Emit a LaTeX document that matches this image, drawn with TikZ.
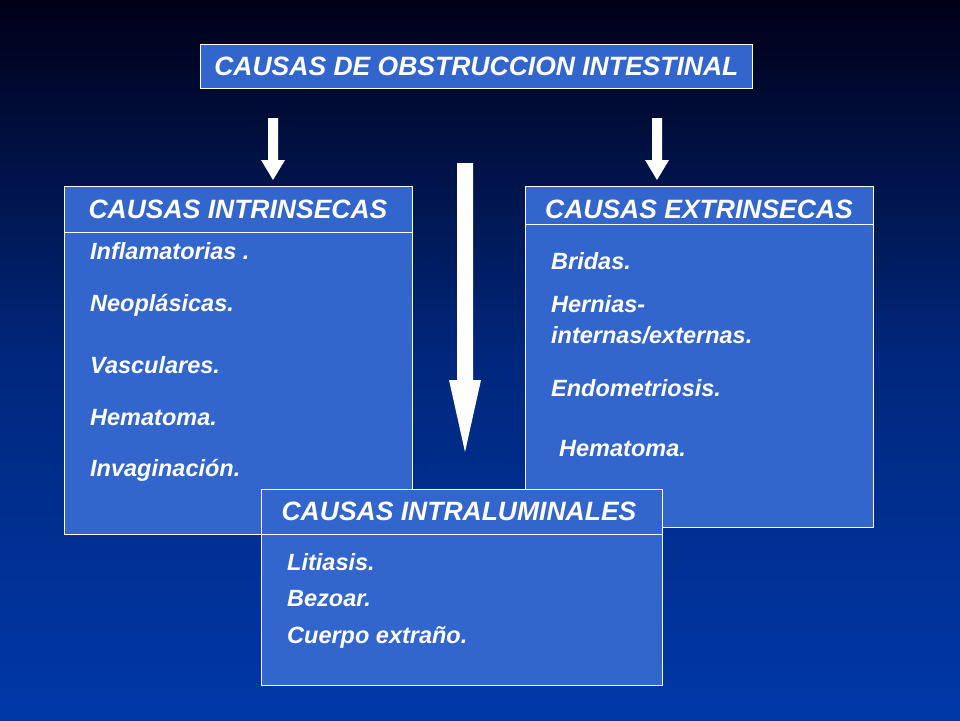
\documentclass[tikz,border=0pt]{standalone}
\usepackage{fontspec}
\setmainfont{Liberation Sans}
\definecolor{boxblue}{HTML}{3366CC}
\definecolor{bgtop}{HTML}{000018}
\definecolor{bgbot}{HTML}{0038A8}
\begin{document}
\begin{tikzpicture}[x=1pt,y=-1pt,
  box/.style={draw=white,line width=0.8pt,fill=boxblue},
  hdr/.style={text=white,font=\bfseries\itshape\fontsize{26.5}{30}\selectfont},
  item/.style={text=white,font=\bfseries\itshape\fontsize{23.5}{27}\selectfont,anchor=west,inner sep=0pt},
  blockarrow/.style={fill=white}]
\useasboundingbox (0,0) rectangle (960,720);
\shade[top color=bgtop,bottom color=bgbot,middle color=bgbot!70!bgtop] (0,0) rectangle (960,720);
% title
\node[box,minimum width=552pt,minimum height=44pt,anchor=north west,hdr] (title) at (200,44) {CAUSAS DE OBSTRUCCION INTESTINAL};
% arrows
\fill[blockarrow] (268,118) -- (278,118) -- (278,160) -- (285,160) -- (273,180) -- (261,160) -- (268,160) -- cycle;
\fill[blockarrow] (652,118) -- (662,118) -- (662,160) -- (669,160) -- (657,180) -- (645,160) -- (652,160) -- cycle;
\fill[blockarrow] (457,163) -- (473,163) -- (473,380) -- (481,380) -- (465,452) -- (449,380) -- (457,380) -- cycle;
% left box
\draw[box] (64,186) rectangle (412,534);
\draw[white,line width=0.8pt] (64,232) -- (412,232);
\node[hdr] (lh) at (238,209) {CAUSAS INTRINSECAS};
\node[item] (l1) at (90,251) {Inflamatorias .};
\node[item] (l2) at (90,305) {Neoplásicas.};
\node[item] (l3) at (90,365) {Vasculares.};
\node[item] (l4) at (90,418) {Hematoma.};
\node[item] (l5) at (90,470) {Invaginación.};
% right box
\draw[box] (525,186) rectangle (873,527);
\draw[white,line width=0.8pt] (525,224) -- (873,224);
\node[hdr] (rh) at (699,209) {CAUSAS EXTRINSECAS};
\node[item] (r1) at (551,261) {Bridas.};
\node[item] (r2) at (551,304) {Hernias-};
\node[item] (r3) at (551,335) {internas/externas.};
\node[item] (r4) at (551,388) {Endometriosis.};
\node[item] (r5) at (559,449) {Hematoma.};
% bottom box
\draw[box] (261,489) rectangle (662,685);
\draw[white,line width=0.8pt] (261,534) -- (662,534);
\node[hdr] (bh) at (459,511) {CAUSAS INTRALUMINALES};
\node[item] (b1) at (287,562) {Litiasis.};
\node[item] (b2) at (287,599) {Bezoar.};
\node[item] (b3) at (287,637) {Cuerpo extraño.};
\end{tikzpicture}
\end{document}
